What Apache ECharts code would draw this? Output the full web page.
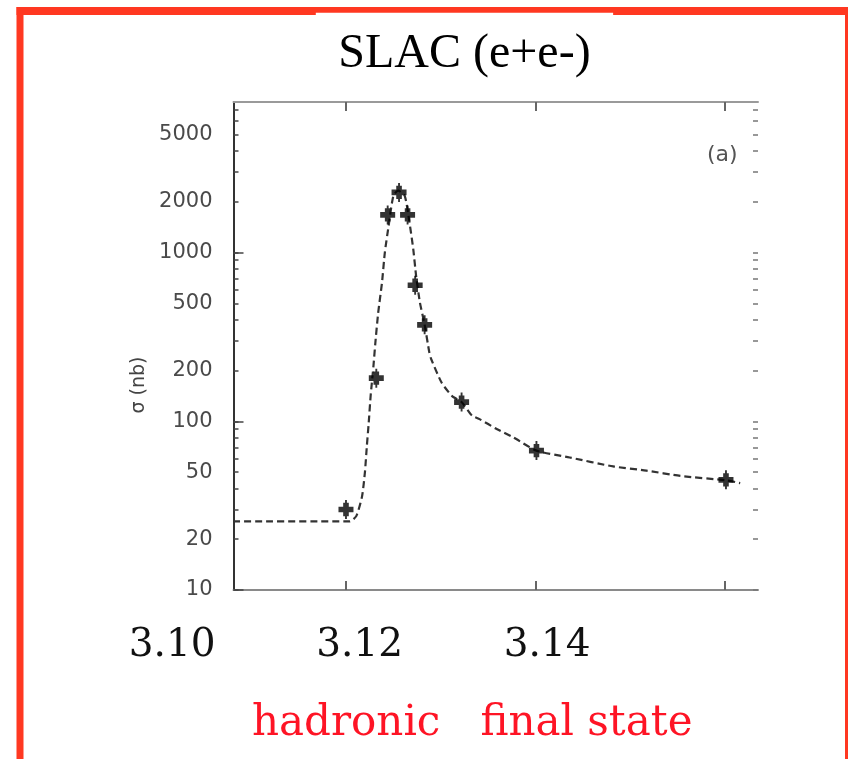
<!DOCTYPE html>
<html>
<head>
    <meta charset="utf-8">
    <title>SLAC (e+e-)</title>
    <script src="https://cdn.jsdelivr.net/npm/echarts@6/dist/echarts.min.js"></script>
    <style>
        html, body { margin: 0; padding: 0; background: #fff; }
    </style>
</head>
<body>
    <div id="main" style="width: 848px;height:759px;"></div>
    <script type="text/javascript">
        // measured points: energy (GeV) and cross section (nb)
        var energy = [3.1200, 3.1232, 3.1244, 3.1256, 3.1265, 3.1273, 3.1283, 3.1322, 3.1401, 3.1601];
        var sigma = [30, 180, 1670, 2270, 1670, 640, 373, 130, 67, 45];

        // dashed fit curve
        var fitEnergy = [3.1081, 3.1204, 3.1211, 3.1217, 3.1220, 3.1222, 3.1224, 3.1226, 3.1229, 3.1231,
                         3.1234, 3.1238, 3.1241, 3.1245, 3.1250, 3.1255, 3.1262, 3.1267, 3.1271, 3.1274,
                         3.1278, 3.1283, 3.1288, 3.1290, 3.1301, 3.1312, 3.1322, 3.1333, 3.1341, 3.1359,
                         3.1377, 3.1401, 3.1436, 3.1482, 3.1517, 3.1553, 3.1601, 3.1616];
        var fitSigma = [25.5, 25.5, 27.5, 36, 50, 71, 98, 141, 213, 292,
                        440, 663, 1000, 1440, 2170, 2325, 2170, 1508, 1047, 728,
                        506, 373, 255, 233, 169, 141, 130, 108, 103, 90,
                        80, 67, 61, 54, 51, 47.4, 44.7, 43];

        // axis ticks and labels
        var xTicks = [3.12, 3.14, 3.16];
        var xLabels = [3.10, 3.12, 3.14];
        var yLabels = [10, 20, 50, 100, 200, 500, 1000, 2000, 5000];
        var yDecades = [10, 100, 1000];
        var yMinorTicks = [10, 20, 30, 40, 50, 60, 70, 80, 90,
                           100, 200, 300, 400, 500, 600, 700, 800, 900,
                           1000, 2000, 3000, 4000, 5000, 6000, 7000];

        var lg = function (v) { return Math.log10(v); };

        var myChart = echarts.init(document.getElementById('main'));

        var frameRed = '#ff3821';

        myChart.setOption({
            animation: false,
            backgroundColor: '#fff',
            graphic: [
                { type: 'rect', z: 0, shape: { x: 16.5, y: 7, width: 7, height: 752 }, style: { fill: frameRed } },
                { type: 'rect', z: 0, shape: { x: 16.5, y: 7, width: 831.5, height: 8 }, style: { fill: frameRed } },
                { type: 'rect', z: 0, shape: { x: 845, y: 7, width: 3, height: 752 }, style: { fill: frameRed } }
            ],
            title: [
                {
                    text: 'SLAC (e+e-)',
                    left: 315.8,
                    top: 12.7,
                    padding: [18, 22.5, 4, 22.5],
                    backgroundColor: '#fff',
                    z: 10,
                    textStyle: { fontFamily: 'Liberation Serif', fontSize: 48, fontWeight: 'normal', color: '#000' }
                },
                {
                    text: 'hadronic   final state',
                    left: 252,
                    top: 703,
                    padding: 0,
                    textStyle: { fontFamily: 'DejaVu Serif', fontSize: 42, fontWeight: 'normal', color: '#fe1425' }
                },
                {
                    text: '(a)',
                    left: 707,
                    top: 144,
                    padding: 0,
                    textStyle: { fontFamily: 'DejaVu Sans', fontSize: 22, fontWeight: 'normal', color: '#555' }
                }
            ],
            grid: [
                { left: 233.5, right: 90, top: 102, bottom: 169, outerBoundsMode: 'none' },
                { left: 0, right: 0, top: 600, height: 1, outerBoundsMode: 'none' }
            ],
            xAxis: [
                {
                    gridIndex: 0, type: 'value', position: 'bottom',
                    min: 3.10813, max: 3.16348,
                    axisLine: { onZero: false, lineStyle: { color: '#8a8a8a', width: 2 } },
                    axisTick: { inside: true, length: 9, customValues: xTicks, lineStyle: { color: '#666', width: 2 } },
                    axisLabel: { show: false },
                    splitLine: { show: false }
                },
                {
                    gridIndex: 0, type: 'value', position: 'top',
                    min: 3.10813, max: 3.16348,
                    axisLine: { onZero: false, lineStyle: { color: '#9a9a9a', width: 2 } },
                    axisTick: { inside: true, length: 9, customValues: xTicks, lineStyle: { color: '#666', width: 2 } },
                    axisLabel: { show: false },
                    splitLine: { show: false }
                },
                {
                    gridIndex: 1, type: 'value', position: 'bottom',
                    min: 3.081632, max: 3.172085,
                    axisLine: { show: false },
                    axisTick: { show: false },
                    splitLine: { show: false },
                    axisLabel: {
                        customValues: xLabels,
                        margin: 25,
                        fontFamily: 'DejaVu Serif',
                        fontSize: 39,
                        color: '#111',
                        formatter: function (v) { return v.toFixed(2); }
                    }
                }
            ],
            yAxis: [
                {
                    gridIndex: 0, type: 'value', position: 'left',
                    min: 1, max: lg(7800),
                    axisLine: { show: true, onZero: false, lineStyle: { color: '#333', width: 2 } },
                    axisTick: { inside: true, length: 5, customValues: yMinorTicks.map(lg), lineStyle: { color: '#444', width: 1.5 } },
                    axisLabel: {
                        customValues: yLabels.map(lg),
                        margin: 21,
                        fontFamily: 'DejaVu Sans',
                        fontSize: 21,
                        color: '#4a4a4a',
                        formatter: function (v) { return String(Math.round(Math.pow(10, v))); }
                    },
                    splitLine: { show: false },
                    name: 'σ (nb)',
                    nameLocation: 'middle',
                    nameGap: 71,
                    nameRotate: 90,
                    nameTextStyle: { fontFamily: 'DejaVu Sans', fontSize: 19, color: '#444', padding: [0, 78, 0, 0] }
                },
                {
                    gridIndex: 0, type: 'value', position: 'right',
                    min: 1, max: lg(7800),
                    axisLine: { show: false },
                    axisTick: { inside: true, length: 5, customValues: yMinorTicks.map(lg), lineStyle: { color: '#777', width: 1.5 } },
                    axisLabel: { show: false },
                    splitLine: { show: false }
                },
                {
                    gridIndex: 0, type: 'value', position: 'left',
                    min: 1, max: lg(7800),
                    axisLine: { show: false },
                    axisTick: { inside: true, length: 10, customValues: yDecades.map(lg), lineStyle: { color: '#444', width: 1.5 } },
                    axisLabel: { show: false },
                    splitLine: { show: false }
                },
                { gridIndex: 1, type: 'value', show: false }
            ],
            series: [
                {
                    name: 'fit',
                    type: 'line',
                    xAxisIndex: 0, yAxisIndex: 0,
                    data: fitEnergy.map(function (e, i) { return [e, lg(fitSigma[i])]; }),
                    showSymbol: false,
                    smooth: 0.2,
                    lineStyle: { type: [7, 4], color: '#333', width: 2.2 },
                    z: 2
                },
                {
                    name: 'σ',
                    type: 'scatter',
                    xAxisIndex: 0, yAxisIndex: 0,
                    data: energy.map(function (e, i) { return [e, lg(sigma[i])]; }),
                    symbol: 'path://M2,7L7,7L7,3L9,3L9,0L11,0L11,3L13,3L13,7L18,7L18,13L13,13L13,17L11,17L11,20L9,20L9,17L7,17L7,13L2,13Z',
                    symbolSize: [15, 19],
                    itemStyle: { color: '#000' },
                    z: 3
                }
            ]
        });
    </script>
</body>
</html>
